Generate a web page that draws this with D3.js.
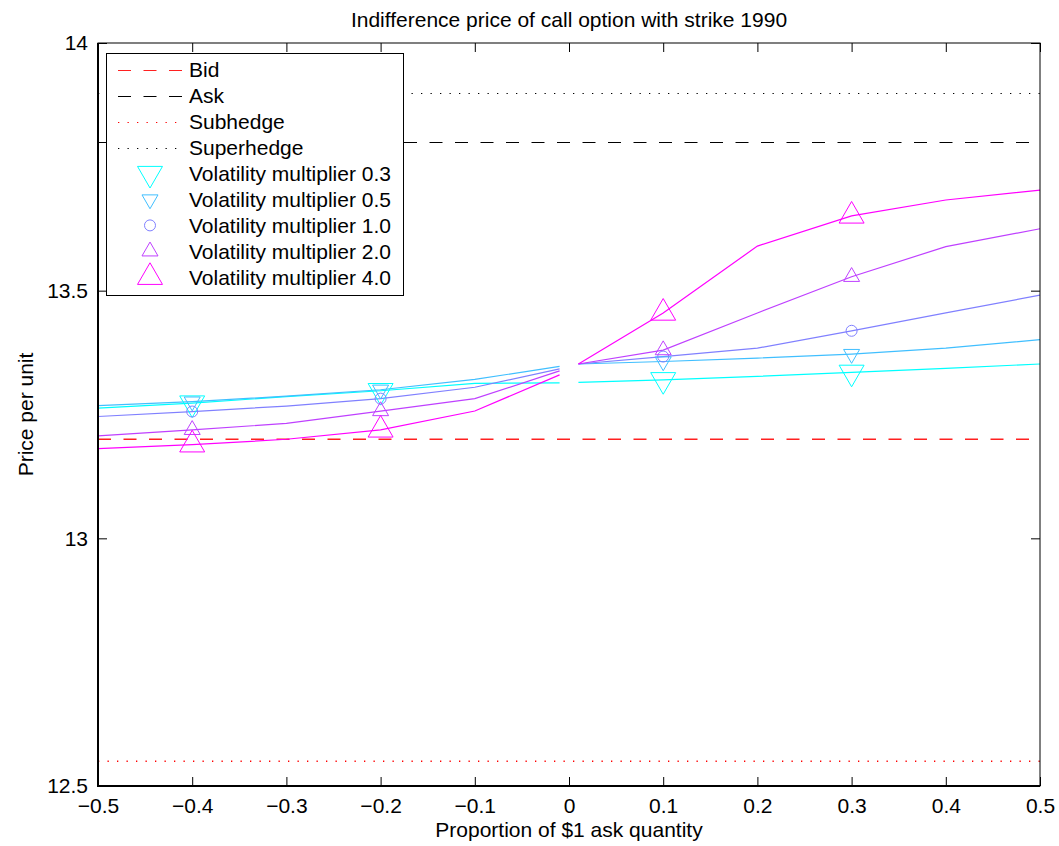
<!DOCTYPE html>
<html>
<head>
<meta charset="utf-8">
<script src="https://cdn.jsdelivr.net/npm/d3@7"></script>
<style>
  body { margin: 0; background: #fff; }
  text { font-family: "Liberation Sans", Arial, Helvetica, sans-serif; }
</style>
</head>
<body>
<svg id="chart"></svg>
<script>
let w = 1059;
let h = 846;
const margin = {top: 43, right: 19, bottom: 60, left: 98};
const fontSize = 21;

// x positions of the computed prices (gap around zero)
const xLeft = [-0.5, -0.4, -0.3, -0.2, -0.1, -0.01];
const xRight = [0.01, 0.1, 0.2, 0.3, 0.4, 0.5];
const markerX = [-0.4, -0.2, 0.1, 0.3];

// series values
const vol03Left = [13.263, 13.273, 13.286, 13.298, 13.313, 13.314];
const vol03Right = [13.315, 13.320, 13.327, 13.335, 13.343, 13.352];
const vol05Left = [13.268, 13.276, 13.287, 13.300, 13.321, 13.347];
const vol05Right = [13.352, 13.357, 13.364, 13.372, 13.384, 13.401];
const vol10Left = [13.246, 13.256, 13.267, 13.282, 13.305, 13.342];
const vol10Right = [13.352, 13.367, 13.384, 13.419, 13.455, 13.491];
const vol20Left = [13.207, 13.219, 13.232, 13.257, 13.282, 13.338];
const vol20Right = [13.352, 13.380, 13.455, 13.528, 13.589, 13.625];
const vol40Left = [13.181, 13.189, 13.200, 13.219, 13.257, 13.330];
const vol40Right = [13.352, 13.455, 13.590, 13.651, 13.683, 13.703];

// marker values at markerX
const vol03Marks = [13.273, 13.298, 13.320, 13.335];
const vol05Marks = [13.276, 13.300, 13.357, 13.372];
const vol10Marks = [13.256, 13.282, 13.367, 13.419];
const vol20Marks = [13.219, 13.257, 13.380, 13.528];
const vol40Marks = [13.189, 13.219, 13.455, 13.651];

// reference levels
const bid = 13.20;
const ask = 13.80;
const subhedge = 12.55;
const superhedge = 13.90;

// ticks
const xTicks = [-0.5, -0.4, -0.3, -0.2, -0.1, 0, 0.1, 0.2, 0.3, 0.4, 0.5];
const xTickLabels = ['\u22120.5', '\u22120.4', '\u22120.3', '\u22120.2', '\u22120.1', '0', '0.1', '0.2', '0.3', '0.4', '0.5'];
const yTicks = [12.5, 13, 13.5, 14];
const yTickLabels = ['12.5', '13', '13.5', '14'];

const volNames = ['Volatility multiplier 0.3', 'Volatility multiplier 0.5', 'Volatility multiplier 1.0',
                  'Volatility multiplier 2.0', 'Volatility multiplier 4.0'];
const volColors = ['#00ffff', '#40bfff', '#8080ff', '#bf40ff', '#ff00ff'];

const series = [
    {left: vol03Left, right: vol03Right, marks: vol03Marks, symbol: d3.symbolTriangle, size: 270, rot: 180},
    {left: vol05Left, right: vol05Right, marks: vol05Marks, symbol: d3.symbolTriangle, size: 111, rot: 180},
    {left: vol10Left, right: vol10Right, marks: vol10Marks, symbol: d3.symbolCircle, size: 95, rot: 0},
    {left: vol20Left, right: vol20Right, marks: vol20Marks, symbol: d3.symbolTriangle, size: 111, rot: 0},
    {left: vol40Left, right: vol40Right, marks: vol40Marks, symbol: d3.symbolTriangle, size: 270, rot: 0}
];

const levels = [
    {name: 'Bid', value: bid, color: '#ff2020', dash: '13,12.5', snap: false},
    {name: 'Ask', value: ask, color: '#000000', dash: '13,12.5', snap: true},
    {name: 'Subhedge', value: subhedge, color: '#ff0000', dash: '1.3,8.2', snap: false},
    {name: 'Superhedge', value: superhedge, color: '#000000', dash: '1.3,8.2', snap: true}
];

function createGraph() {
    let svg = d3.select('#chart')
        .attr('width', w)
        .attr('height', h);

    let x = d3.scaleLinear().domain([-0.5, 0.5]).range([margin.left, w - margin.right]);
    let y = d3.scaleLinear().domain([12.5, 14]).range([h - margin.bottom, margin.top]);
    //black reference lines sit on the pixel grid, red ones stay soft
    let yLevel = (d) => d.snap ? Math.round(y(d.value)) + 0.5 : y(d.value);

    //reference levels
    svg.selectAll('line.level')
        .data(levels)
        .enter()
        .append('line')
            .attr('class', 'level')
            .attr('x1', x(-0.5))
            .attr('x2', x(0.5))
            .attr('y1', yLevel)
            .attr('y2', yLevel)
            .attr('stroke', (d) => d.color)
            .attr('stroke-width', (d) => d.snap ? 1 : 1.3)
            .attr('stroke-dasharray', (d) => d.dash);

    //price curves, drawn in two pieces either side of zero
    let line = d3.line()
        .x((d) => x(d[0]))
        .y((d) => y(d[1]));

    series.forEach((s, i) => {
        [[xLeft, s.left], [xRight, s.right]].forEach((part) => {
            svg.append('path')
                .datum(part[0].map((v, j) => [v, part[1][j]]))
                .attr('d', line)
                .attr('fill', 'none')
                .attr('stroke', volColors[i])
                .attr('stroke-width', 1.2);
        });
    });

    //markers
    series.forEach((s, i) => {
        let sym = d3.symbol().type(s.symbol).size(s.size);
        svg.selectAll('path.m' + i)
            .data(markerX.map((v, j) => [v, s.marks[j]]))
            .enter()
            .append('path')
                .attr('class', 'm' + i)
                .attr('d', sym)
                .attr('transform', (d) => `translate(${x(d[0])},${y(d[1])}) rotate(${s.rot})`)
                .attr('fill', 'none')
                .attr('stroke', volColors[i])
                .attr('stroke-width', 1);
    });

    //axes with inward ticks
    let bottom = svg.append('g')
        .attr('transform', `translate(0,${h - margin.bottom})`)
        .call(d3.axisBottom(x).tickValues(xTicks).tickFormat((d, i) => xTickLabels[i])
            .tickSizeInner(-9).tickSizeOuter(0).tickPadding(12));
    let left = svg.append('g')
        .attr('transform', `translate(${margin.left},0)`)
        .call(d3.axisLeft(y).tickValues(yTicks).tickFormat((d, i) => yTickLabels[i])
            .tickSizeInner(-9).tickSizeOuter(0).tickPadding(10));
    let top = svg.append('g')
        .attr('transform', `translate(0,${margin.top})`)
        .call(d3.axisTop(x).tickValues(xTicks).tickFormat('').tickSizeInner(-9).tickSizeOuter(0));
    let right = svg.append('g')
        .attr('transform', `translate(${w - margin.right},0)`)
        .call(d3.axisRight(y).tickValues(yTicks).tickFormat('').tickSizeInner(-9).tickSizeOuter(0));

    [bottom, left, top, right].forEach((g) => {
        g.select('.domain').remove();
        g.selectAll('.tick line').attr('stroke', '#000');
        g.selectAll('text')
            .style('font-size', fontSize + 'px')
            .attr('fill', '#000');
    });

    //box
    svg.append('rect')
        .attr('x', margin.left)
        .attr('y', margin.top)
        .attr('width', w - margin.left - margin.right)
        .attr('height', h - margin.top - margin.bottom)
        .attr('fill', 'none')
        .attr('stroke', '#000')
        .attr('stroke-width', 1);
    svg.append('path')
        .attr('d', `M${margin.left},${margin.top}V${h - margin.bottom}H${w - margin.right}`)
        .attr('fill', 'none')
        .attr('stroke', '#000')
        .attr('stroke-width', 2);

    //legend
    let lx = 106, ly = 53, rowH = 25.9;
    let legend = svg.append('g');
    legend.append('rect')
        .attr('x', lx + 0.5)
        .attr('y', ly + 0.5)
        .attr('width', 297)
        .attr('height', 242)
        .attr('fill', '#fff')
        .attr('stroke', '#000')
        .attr('stroke-width', 1);

    let names = levels.map((d) => d.name).concat(volNames);
    legend.selectAll('text.item')
        .data(names)
        .enter()
        .append('text')
            .attr('class', 'item')
            .attr('x', 189)
            .attr('y', (d, i) => ly + 17 + i * rowH)
            .attr('dy', '0.35em')
            .style('font-size', fontSize + 'px')
            .text((d) => d);

    legend.selectAll('line.sample')
        .data(levels)
        .enter()
        .append('line')
            .attr('class', 'sample')
            .attr('x1', 118)
            .attr('x2', 182)
            .attr('y1', (d, i) => Math.round(ly + 17 + i * rowH) + 0.5)
            .attr('y2', (d, i) => Math.round(ly + 17 + i * rowH) + 0.5)
            .attr('stroke', (d) => d.color)
            .attr('stroke-dasharray', (d) => d.dash);

    series.forEach((s, i) => {
        legend.append('path')
            .attr('d', d3.symbol().type(s.symbol).size(s.size))
            .attr('transform', `translate(150,${ly + 17 + (i + 4) * rowH}) rotate(${s.rot})`)
            .attr('fill', 'none')
            .attr('stroke', volColors[i]);
    });

    //titles
    svg.append('text')
        .attr('x', x(0))
        .attr('y', 27)
        .attr('text-anchor', 'middle')
        .style('font-size', fontSize + 'px')
        .text('Indifference price of call option with strike 1990');

    svg.append('text')
        .attr('x', x(0))
        .attr('y', 837)
        .attr('text-anchor', 'middle')
        .style('font-size', fontSize + 'px')
        .text('Proportion of $1 ask quantity');

    svg.append('text')
        .attr('transform', `translate(32.5,${y(13.25)}) rotate(-90)`)
        .attr('text-anchor', 'middle')
        .style('font-size', fontSize + 'px')
        .text('Price per unit');
}

createGraph();
</script>
</body>
</html>
